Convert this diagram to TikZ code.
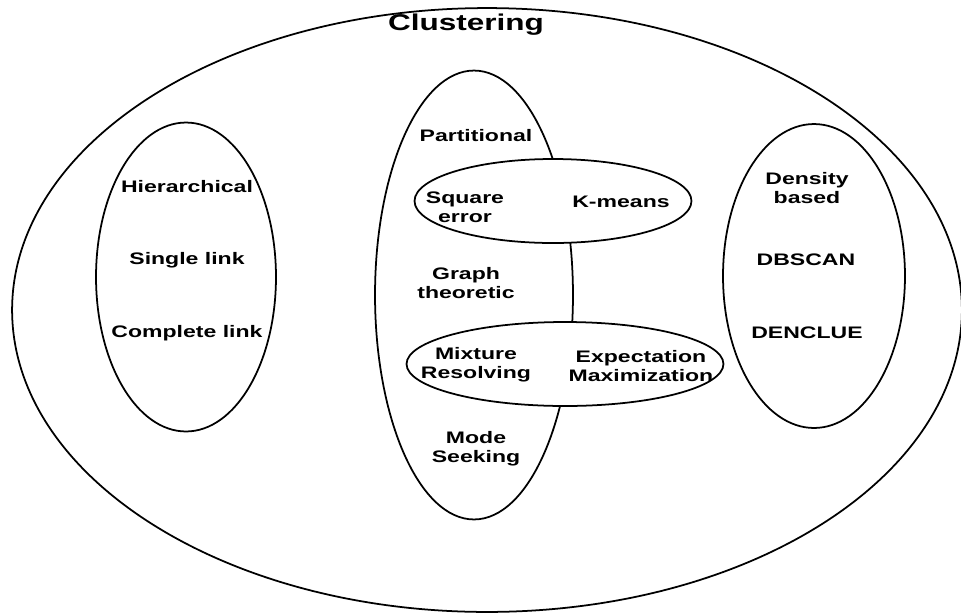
\documentclass[tikz,border=0pt]{standalone}
\usepackage{fontspec}
\setmainfont[FakeStretch=1.38]{Liberation Sans}
\usetikzlibrary{shapes.geometric}

\tikzset{
  ring/.style={ellipse, draw, line width=1pt, inner sep=0pt, outer sep=0pt},
  lbl/.style={font=\fontsize{9.5}{10.8}\selectfont\bfseries, align=center, inner sep=0pt}
}

\begin{document}
\begin{tikzpicture}[x=0.02cm, y=-0.02cm]
\useasboundingbox (0,0) rectangle (961,613);
% the rings
\node [ring, minimum width=19cm, minimum height=12.08cm] (clus) at (487,310) {};
\node [ring, minimum width=3.6cm, minimum height=6.18cm] (hier) at (186,277) {};
\node [ring, minimum width=3.64cm, minimum height=6.08cm] (dens) at (814,276) {};
\node [ring, minimum width=3.96cm, minimum height=8.98cm] (part) at (474,295) {};
\node [ring, fill=white, minimum width=5.54cm, minimum height=1.68cm] (sqerr) at (553,201) {};
\node [ring, fill=white, minimum width=6.34cm, minimum height=1.68cm] (mixres) at (565,364) {};
% the labels
\node [font=\fontsize{13}{15}\selectfont\bfseries, inner sep=0pt] (tclus) at (466,25) {Clustering};
\node [lbl] (thier) at (187,187) {Hierarchical};
\node [lbl] (tsingle) at (187,260) {Single link};
\node [lbl] (tcomplete) at (187,333) {Complete link};
\node [lbl] (tpart) at (476,136) {Partitional};
\node [lbl] (tsqerr) at (465,207) {Square\\error};
\node [lbl] (tkmeans) at (621,202) {K-means};
\node [lbl] (tgraph) at (466,283) {Graph\\theoretic};
\node [lbl] (tmixres) at (476,365) {Mixture\\Resolving};
\node [lbl] (texpmax) at (641,366) {Expectation\\Maximization};
\node [lbl] (tmode) at (476,449) {Mode\\Seeking};
\node [lbl] (tdens) at (807,188) {Density\\based};
\node [lbl] (tdbscan) at (806,260) {DBSCAN};
\node [lbl] (tdenclue) at (807,333) {DENCLUE};
\end{tikzpicture}
\end{document}
